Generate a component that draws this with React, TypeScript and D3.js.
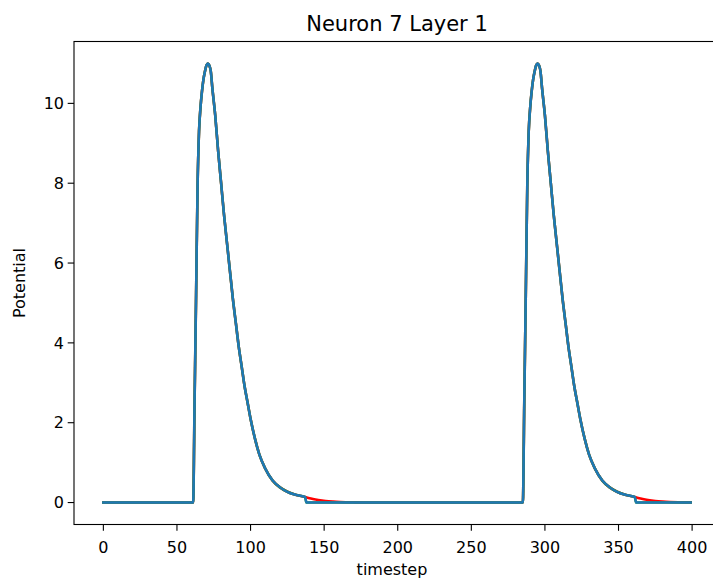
import React from "react";
import * as d3 from "d3";

// shape of one potential spike, offsets from spike start (timesteps) and values
const spikeOffsets = [0, 1, 2, 3, 4, 5, 6, 7, 8, 9, 10, 11, 12, 13, 15, 17, 19, 21, 23, 25, 27, 29, 31, 33, 35, 37, 39, 42, 45, 49, 54, 59, 64, 69, 76];
const spikeValues = [0, 2.6, 5.2, 7.9, 9.3, 9.9, 10.3, 10.6, 10.8, 10.95, 11.0, 10.95, 10.8, 10.4, 9.7, 8.8, 8.0, 7.2, 6.5, 5.8, 5.1, 4.5, 3.9, 3.4, 2.9, 2.5, 2.1, 1.6, 1.2, 0.85, 0.55, 0.38, 0.27, 0.2, 0.14];
// red trace keeps decaying after the blue one is reset
const tailOffsets = [80, 85, 90, 95, 100, 110, 120];
const tailValues = [0.1, 0.065, 0.04, 0.025, 0.015, 0.005, 0];
const spikeStarts = [61, 285];
const lastStep = 399;

const xTicks = [0, 50, 100, 150, 200, 250, 300, 350, 400];
const yTicks = [0, 2, 4, 6, 8, 10];

type Pt = [number, number];

function buildSeries(withTail: boolean): Pt[] {
  const pts: Pt[] = [[0, 0]];
  spikeStarts.forEach((s, k) => {
    pts.push([s - 1, 0]);
    spikeOffsets.forEach((o, i) => pts.push([s + o, spikeValues[i]]));
    const next = k + 1 < spikeStarts.length ? spikeStarts[k + 1] : lastStep + 1;
    if (withTail) {
      tailOffsets.forEach((o, i) => {
        if (s + o < next) pts.push([s + o, tailValues[i]]);
      });
    } else {
      pts.push([s + spikeOffsets[spikeOffsets.length - 1] + 1, 0]);
    }
  });
  const last = pts[pts.length - 1];
  if (last[0] < lastStep) pts.push([lastStep, withTail ? Math.min(last[1], 0.005) : 0]);
  return pts;
}

const W = 713;
const H = 579;
const font = "DejaVu Sans, sans-serif";

export default function App() {
  const x = d3.scaleLinear().domain([-19.95, 418.95]).range([74, 720]);
  const y = d3.scaleLinear().domain([-0.55, 11.55]).range([524.5, 41.5]);
  const line = d3
    .line<Pt>()
    .x((d) => x(d[0]))
    .y((d) => y(d[1]))
    .curve(d3.curveMonotoneX);

  const red = buildSeries(true);
  const blue = buildSeries(false);
  const [x0, x1] = x.range();
  const [yb, yt] = y.range();

  return (
    <svg
      width={W}
      height={H}
      style={{ position: "absolute", left: 0, top: 0, display: "block", background: "#fff" }}
      fontFamily={font}
    >
      <rect x={0} y={0} width={W} height={H} fill="#fff" />
      <defs>
        <clipPath id="plot">
          <rect x={x0} y={yt} width={x1 - x0} height={yb - yt} />
        </clipPath>
      </defs>
      <g clipPath="url(#plot)" fill="none" strokeLinejoin="round" strokeLinecap="square">
        <path d={line(red) || ""} stroke="#ff0000" strokeWidth={2.6} />
        <path d={line(blue) || ""} stroke="#2ca02c" strokeWidth={2.6} />
        <path d={line(blue) || ""} stroke="#1f77b4" strokeWidth={2.5} />
      </g>
      {/* spines */}
      <rect x={x0} y={yt} width={x1 - x0} height={yb - yt} fill="none" stroke="#000" strokeWidth={1.1} />
      {/* x axis */}
      {xTicks.map((t) => (
        <g key={t} transform={`translate(${x(t)},${yb})`}>
          <line y1={0} y2={6.3} stroke="#000" strokeWidth={1.1} />
          <text y={28} textAnchor="middle" fontSize={16} fill="#000">
            {t}
          </text>
        </g>
      ))}
      {yTicks.map((t) => (
        <g key={t} transform={`translate(${x0},${y(t)})`}>
          <line x1={0} x2={-6.3} stroke="#000" strokeWidth={1.1} />
          <text x={-10} dy="0.36em" textAnchor="end" fontSize={16} fill="#000">
            {t}
          </text>
        </g>
      ))}
      <text x={392} y={575} textAnchor="middle" fontSize={16} fill="#000">
        timestep
      </text>
      <text transform={`translate(25,${(yt + yb) / 2}) rotate(-90)`} textAnchor="middle" fontSize={16} fill="#000">
        Potential
      </text>
      <text x={397} y={31} textAnchor="middle" fontSize={21} fill="#000">
        Neuron 7 Layer 1
      </text>
    </svg>
  );
}
